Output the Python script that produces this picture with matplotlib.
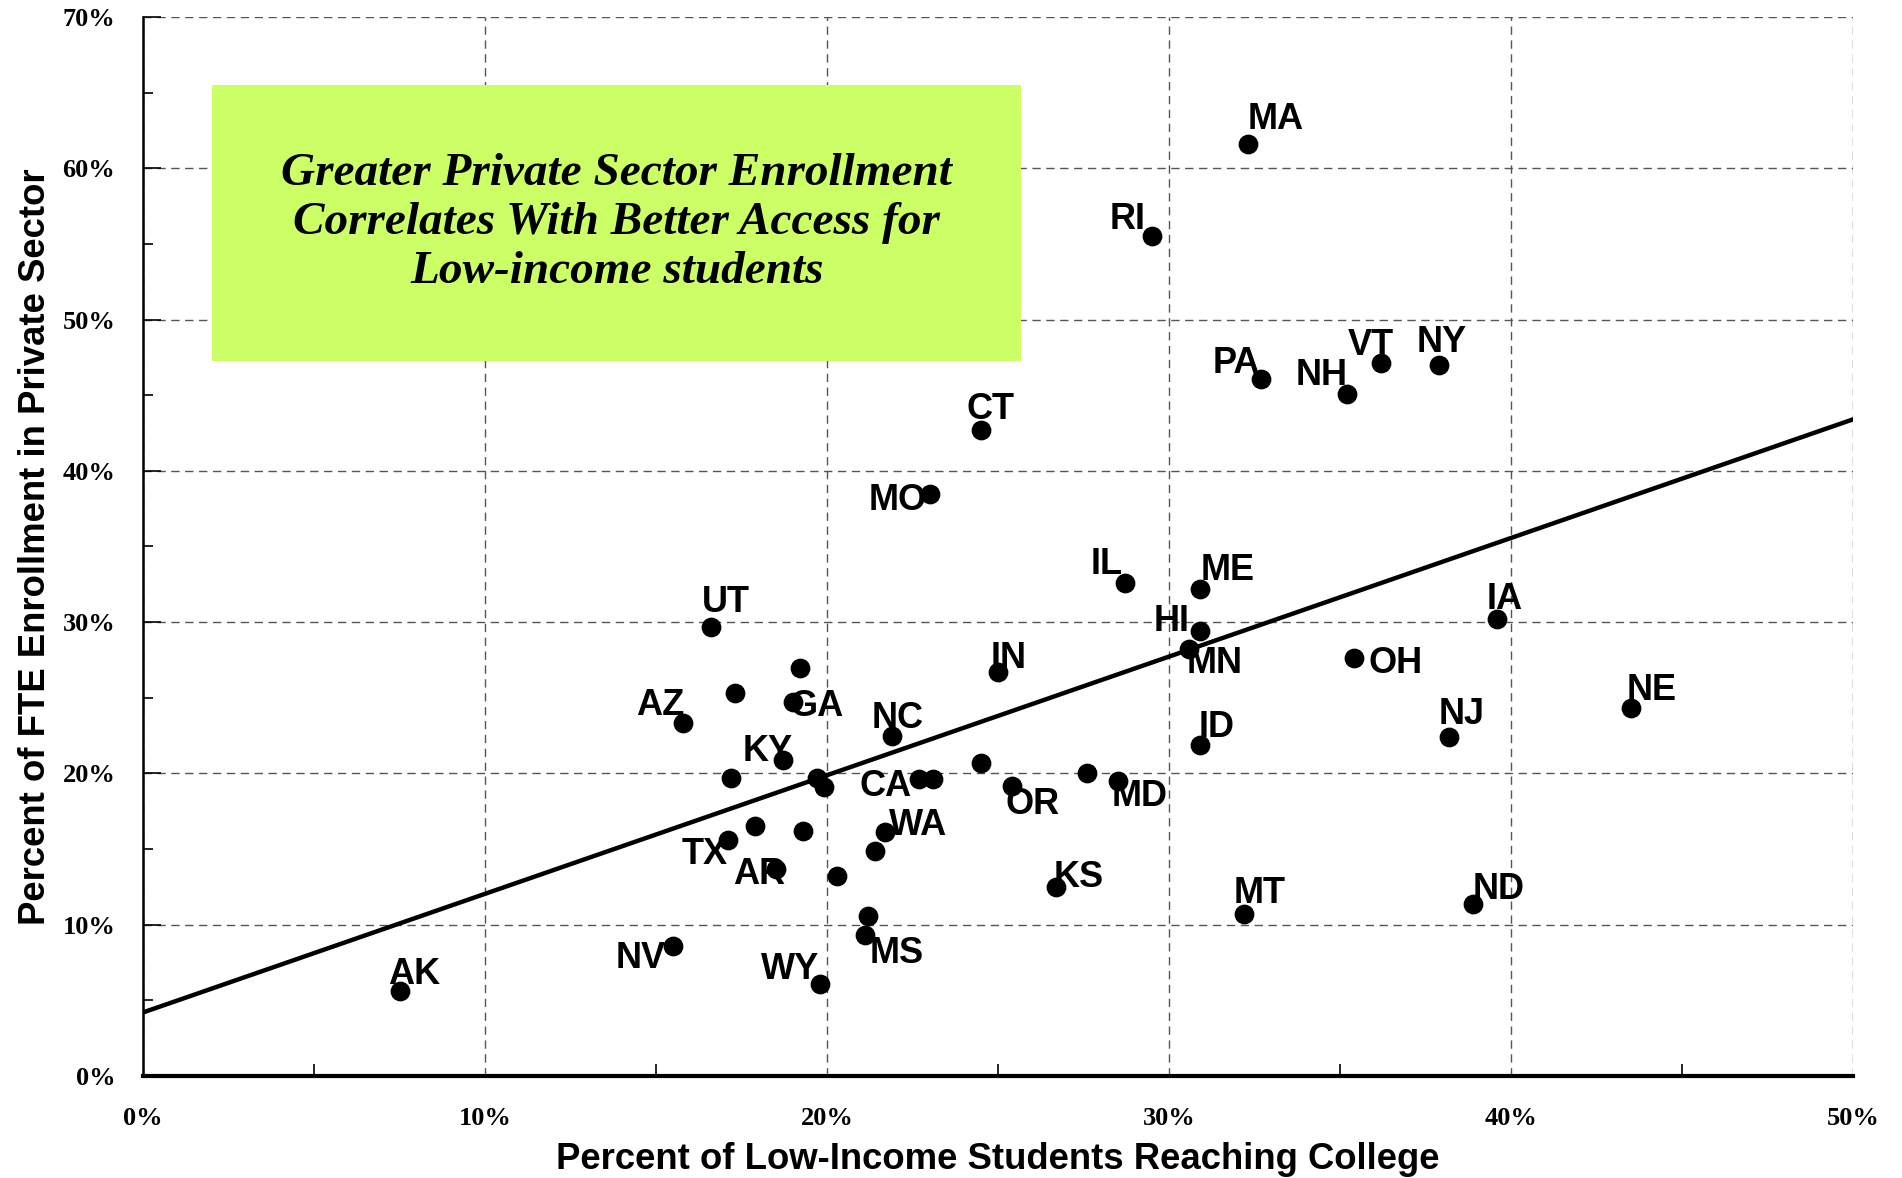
import matplotlib
matplotlib.use("Agg")
import matplotlib.pyplot as plt
from matplotlib.patches import Rectangle
from matplotlib.ticker import MultipleLocator, FuncFormatter

# Percent of low-income students reaching college (x) and private-sector FTE share (y)
states = ["MA", "RI", "PA", "NH", "VT", "NY", "CT", "MO", "IL", "ME", "HI", "MN",
          "IA", "OH", "NE", "NJ", "ID", "UT", "IN", "AZ", "GA", "NC", "KY", "CA",
          "OR", "MD", "TX", "WA", "AR", "KS", "MT", "ND", "MS", "NV", "WY", "AK"]
x_lab = [32.3, 29.5, 32.7, 35.2, 36.2, 37.9, 24.5, 23.0, 28.7, 30.9, 30.9, 30.6,
         39.6, 35.4, 43.5, 38.2, 30.9, 16.6, 25.0, 15.8, 19.0, 21.9, 18.7, 22.7,
         25.4, 28.5, 17.1, 21.7, 18.5, 26.7, 32.2, 38.9, 21.1, 15.5, 19.8, 7.5]
y_lab = [61.6, 55.5, 46.1, 45.1, 47.1, 47.0, 42.7, 38.5, 32.6, 32.2, 29.4, 28.2,
         30.2, 27.6, 24.3, 22.4, 21.9, 29.7, 26.7, 23.3, 24.7, 22.5, 20.9, 19.6,
         19.2, 19.5, 15.6, 16.1, 13.7, 12.5, 10.7, 11.4, 9.3, 8.6, 6.1, 5.6]

# unlabeled states
x_other = [19.2, 17.3, 17.2, 19.7, 19.9, 23.1, 24.5, 27.6, 17.9, 19.3, 21.4, 20.3, 21.2]
y_other = [27.0, 25.3, 19.7, 19.7, 19.1, 19.6, 20.7, 20.0, 16.5, 16.2, 14.9, 13.2, 10.6]

# trend line end points
trend_x = [0, 50]
trend_y = [4.2, 43.4]

# label offsets in points (dx, dy)
offsets = {
    "MA": (20, 17.5), "RI": (-17.5, 12), "PA": (-18, 11), "NH": (-18, 13),
    "VT": (-7, 13), "NY": (2, 16.5), "CT": (7, 15), "MO": (-23, -5),
    "IL": (-13, 13), "ME": (20, 13), "HI": (-20, 7), "MN": (18, -10.5),
    "IA": (5, 14), "OH": (30, -4), "NE": (15, 13), "NJ": (9, 16),
    "ID": (12, 12), "UT": (11, 17.5), "IN": (8, 10), "AZ": (-17, 13),
    "GA": (17, -3), "NC": (4, 12), "KY": (-11, 6), "CA": (-24, -5),
    "OR": (15, -14), "MD": (16, -11), "TX": (-17, -10.5), "WA": (24, 5),
    "AR": (-12, -4), "KS": (16, 7), "MT": (11, 15), "ND": (18, 10),
    "MS": (23, -13), "NV": (-23, -9), "WY": (-22, 10.5), "AK": (10.5, 12),
}

fig = plt.figure(figsize=(19.02, 11.78), dpi=100)
ax = fig.add_axes([0.0752, 0.0866, 0.8990, 0.8990])

ax.set_xlim(0, 50)
ax.set_ylim(0, 70)

ax.xaxis.set_major_locator(MultipleLocator(10))
ax.xaxis.set_minor_locator(MultipleLocator(5))
ax.yaxis.set_major_locator(MultipleLocator(10))
ax.yaxis.set_minor_locator(MultipleLocator(5))
pct = FuncFormatter(lambda v, p: f"{v:.0f}%")
ax.xaxis.set_major_formatter(pct)
ax.yaxis.set_major_formatter(pct)

ax.grid(True, which="major", color="#555555", linestyle=(0, (6, 4)), linewidth=1.0, zorder=0)
ax.set_axisbelow(True)

for s in ["top", "right"]:
    ax.spines[s].set_visible(False)
ax.spines["left"].set_linewidth(1.8)
ax.spines["bottom"].set_linewidth(3)

ax.tick_params(axis="both", which="both", direction="in", color="black")
ax.tick_params(axis="y", which="major", length=13, width=1.2, pad=20)
ax.tick_params(axis="y", which="minor", length=7, width=1.2)
ax.tick_params(axis="x", which="major", length=0, pad=22)
ax.tick_params(axis="x", which="minor", length=9, width=1.2)
for lbl in ax.get_xticklabels() + ax.get_yticklabels():
    lbl.set_fontfamily("Liberation Serif")
    lbl.set_fontweight("bold")
    lbl.set_fontsize(19)

box = Rectangle((0.0404, 0.675), 0.4730, 0.261, transform=ax.transAxes,
                facecolor="#CCFF66", edgecolor="none", zorder=1)
ax.add_patch(box)
ax.text(0.277, 0.8055, "Greater Private Sector Enrollment\nCorrelates With Better Access for\nLow-income students",
        transform=ax.transAxes, ha="center", va="center", fontsize=34,
        family="Liberation Serif", style="italic", fontweight="bold",
        linespacing=1.22, zorder=2)

ax.plot(trend_x, trend_y, color="black", linewidth=3.2, zorder=3)
ax.scatter(x_lab + x_other, y_lab + y_other, s=175, color="black", zorder=4, clip_on=False)

for st, xv, yv in zip(states, x_lab, y_lab):
    dx, dy = offsets[st]
    ax.annotate(st, (xv, yv), xytext=(dx, dy), textcoords="offset points",
                ha="center", va="center", fontsize=26, fontweight="bold",
                family="Liberation Sans", zorder=5)

ax.set_xlabel("Percent of Low-Income Students Reaching College", fontsize=26.3,
              fontweight="bold", family="Liberation Sans", labelpad=9)
ax.set_ylabel("Percent of FTE Enrollment in Private Sector", fontsize=26.3,
              fontweight="bold", family="Liberation Sans", labelpad=7)

fig.savefig("out.png", dpi=100)
